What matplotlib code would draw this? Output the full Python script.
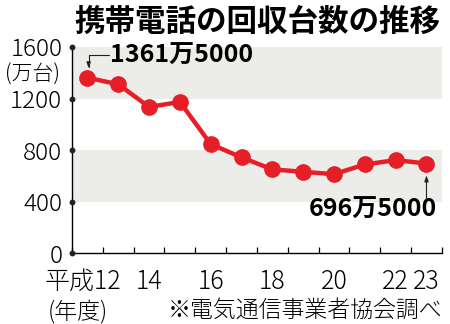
import matplotlib
matplotlib.use("Agg")
import matplotlib.pyplot as plt

plt.rcParams['font.family'] = ['Noto Sans CJK JP', 'DejaVu Sans']

# 回収台数 (万台), 平成12〜23年度
years = [12, 13, 14, 15, 16, 17, 18, 19, 20, 21, 22, 23]
units = [1361.5, 1311, 1135, 1174, 847, 744, 651, 632, 614, 689, 723, 696.5]
ytick_vals = [0, 400, 800, 1200, 1600]
xtick_vals = [14, 16, 18, 20, 22, 23]
bands = [(400, 800), (1200, 1600)]

red = '#e61e28'
band_color = '#ecece8'

fig = plt.figure(figsize=(4.5, 3.24), dpi=100)
ax = fig.add_axes([0.16, 0.218, 0.822, 0.637])
ax.set_xlim(11.5, 23.5)
ax.set_ylim(0, 1600)

for lo, hi in bands:
    ax.axhspan(lo, hi, color=band_color, zorder=0, lw=0)

ax.plot(years, units, color=red, lw=3.2, marker='o', ms=11,
        zorder=3, clip_on=False)

# axes styling
for s in ['top', 'right']:
    ax.spines[s].set_visible(False)
ax.spines['left'].set_linewidth(1.0)
ax.spines['bottom'].set_linewidth(1.0)

ax.set_yticks(ytick_vals)
ax.set_yticklabels([str(v) for v in ytick_vals], fontsize=17.5, fontweight='light')
ax.tick_params(axis='y', length=0, pad=7)
ax.plot([0] * len(ytick_vals), ytick_vals, 'o', color='#222222', ms=3.2,
        transform=ax.get_yaxis_transform(), clip_on=False, zorder=4)

ax.set_xticks(xtick_vals)
ax.set_xticklabels([str(v) for v in xtick_vals], fontsize=18, fontweight='light')
ax.tick_params(axis='x', which='major', length=0, pad=11)
ax.set_xticks([y + 0.5 for y in [11] + years], minor=True)
ax.tick_params(axis='x', which='minor', direction='in', length=4, width=0.9)

# labels
fig.text(0.572, 0.932, '携帯電話の回収台数の推移', fontsize=22, fontweight='bold',
         ha='center', va='center')
fig.text(0.073, 0.768, '(万台)', fontsize=15, fontweight='light',
         ha='center', va='center')
ax.text(13.1, -0.07, '平成12', fontsize=18, fontweight='light', ha='right', va='top',
        transform=ax.get_xaxis_transform())
fig.text(0.173, 0.036, '(年度)', fontsize=16.5, fontweight='light',
         ha='center', va='center')
fig.text(0.982, 0.042, '※電気通信事業者協会調べ', fontsize=16.5, fontweight='light',
         ha='right', va='center')

# callouts
ax.text(12.73, 1535, '1361万5000', fontsize=18, fontweight='bold',
        ha='left', va='center')
ax.annotate('', xy=(12.04, 1434), xytext=(12.7, 1535),
            arrowprops=dict(arrowstyle='-|>,head_length=0.35,head_width=0.12',
                            connectionstyle='angle,angleA=0,angleB=90,rad=0',
                            color='#222222', lw=0.8, shrinkA=0, shrinkB=0))
ax.text(23.35, 336, '696万5000', fontsize=18, fontweight='bold',
        ha='right', va='center')
ax.annotate('', xy=(23, 605), xytext=(23, 413),
            arrowprops=dict(arrowstyle='-|>,head_length=0.35,head_width=0.12',
                            color='#222222', lw=0.8, shrinkA=0, shrinkB=0))

fig.savefig('out.png', dpi=100)
